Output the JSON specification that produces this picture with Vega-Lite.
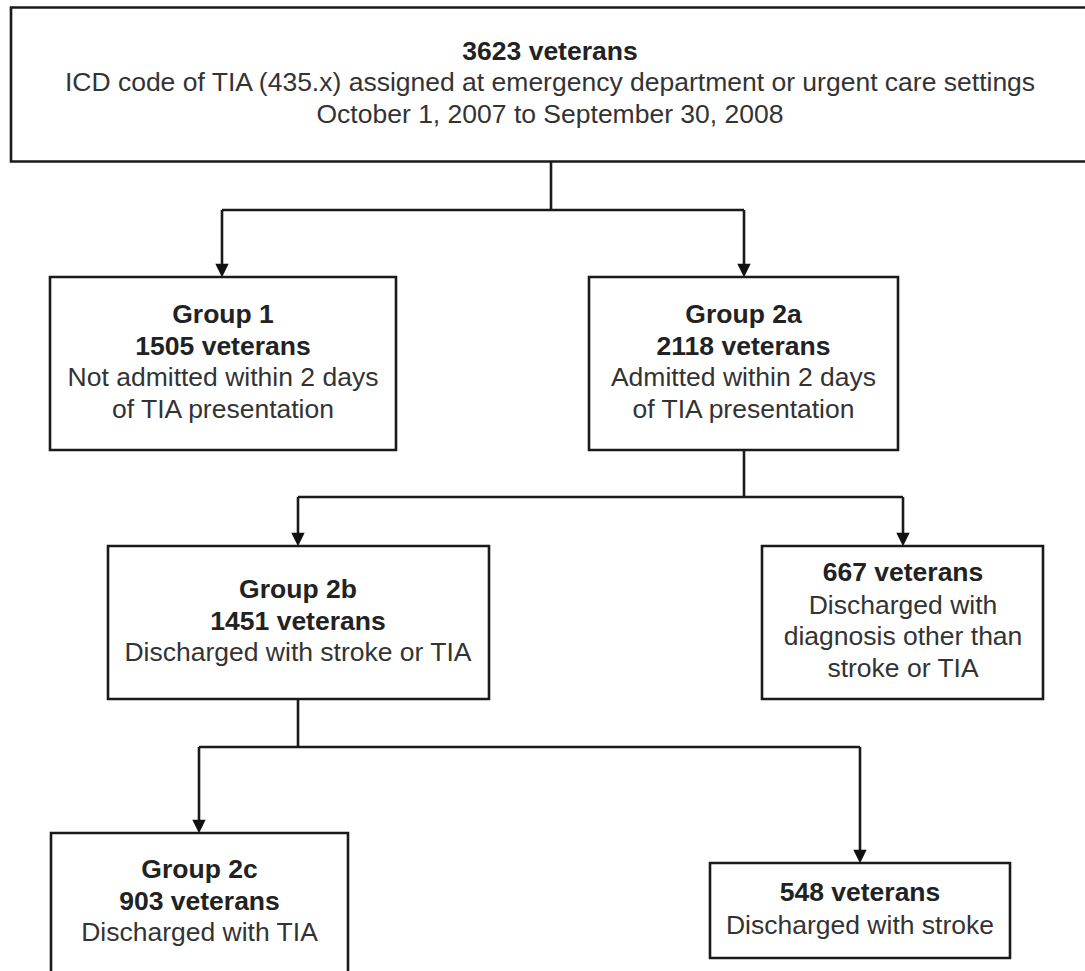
{
  "$schema": "https://vega.github.io/schema/vega-lite/v6.json",
  "width": 1085,
  "height": 971,
  "autosize": {"type": "fit", "contains": "padding"},
  "padding": 0,
  "background": "white",
  "config": {"view": {"stroke": null}},
  "datasets": {
    "boxes": [
      {"id": "top", "x": 11, "x2": 1100, "y": 7.5, "y2": 161.5},
      {"id": "g1", "x": 50, "x2": 396, "y": 277, "y2": 450},
      {"id": "g2a", "x": 589, "x2": 898, "y": 277, "y2": 450},
      {"id": "g2b", "x": 108, "x2": 489, "y": 546, "y2": 699},
      {"id": "o667", "x": 762, "x2": 1043, "y": 546, "y2": 699},
      {"id": "g2c", "x": 51, "x2": 348, "y": 833, "y2": 990},
      {"id": "s548", "x": 710, "x2": 1010, "y": 863, "y2": 958}
    ],
    "links": [
      {"x": 551, "x2": 551, "y": 161.5, "y2": 210},
      {"x": 222, "x2": 744, "y": 210, "y2": 210},
      {"x": 222, "x2": 222, "y": 210, "y2": 268},
      {"x": 744, "x2": 744, "y": 210, "y2": 268},
      {"x": 744, "x2": 744, "y": 450, "y2": 497},
      {"x": 298, "x2": 903, "y": 497, "y2": 497},
      {"x": 298, "x2": 298, "y": 497, "y2": 538},
      {"x": 903, "x2": 903, "y": 497, "y2": 538},
      {"x": 298, "x2": 298, "y": 699, "y2": 747},
      {"x": 199, "x2": 860, "y": 747, "y2": 747},
      {"x": 199, "x2": 199, "y": 747, "y2": 825},
      {"x": 860, "x2": 860, "y": 747, "y2": 855}
    ],
    "arrows": [
      {"x": 222, "y": 270.5},
      {"x": 744, "y": 270.5},
      {"x": 298, "y": 539.5},
      {"x": 903, "y": 539.5},
      {"x": 199, "y": 826.5},
      {"x": 860, "y": 856.5}
    ],
    "labels": [
      {"x": 550, "y": 52, "text": "3623 veterans", "bold": true},
      {"x": 550, "y": 83, "text": "ICD code of TIA (435.x) assigned at emergency department or urgent care settings", "bold": false},
      {"x": 550, "y": 115, "text": "October 1, 2007 to September 30, 2008", "bold": false},
      {"x": 223, "y": 315, "text": "Group 1", "bold": true},
      {"x": 223, "y": 347, "text": "1505 veterans", "bold": true},
      {"x": 223, "y": 378, "text": "Not admitted within 2 days", "bold": false},
      {"x": 223, "y": 410, "text": "of TIA presentation", "bold": false},
      {"x": 743.5, "y": 315, "text": "Group 2a", "bold": true},
      {"x": 743.5, "y": 347, "text": "2118 veterans", "bold": true},
      {"x": 743.5, "y": 378, "text": "Admitted within 2 days", "bold": false},
      {"x": 743.5, "y": 410, "text": "of TIA presentation", "bold": false},
      {"x": 298, "y": 590, "text": "Group 2b", "bold": true},
      {"x": 298, "y": 622, "text": "1451 veterans", "bold": true},
      {"x": 298, "y": 653, "text": "Discharged with stroke or TIA", "bold": false},
      {"x": 903, "y": 573, "text": "667 veterans", "bold": true},
      {"x": 903, "y": 606, "text": "Discharged with", "bold": false},
      {"x": 903, "y": 637, "text": "diagnosis other than", "bold": false},
      {"x": 903, "y": 669, "text": "stroke or TIA", "bold": false},
      {"x": 199.5, "y": 870, "text": "Group 2c", "bold": true},
      {"x": 199.5, "y": 902, "text": "903 veterans", "bold": true},
      {"x": 199.5, "y": 933, "text": "Discharged with TIA", "bold": false},
      {"x": 860, "y": 893, "text": "548 veterans", "bold": true},
      {"x": 860, "y": 926, "text": "Discharged with stroke", "bold": false}
    ]
  },
  "layer": [
    {
      "data": {"name": "boxes"},
      "mark": {"type": "rect", "fill": "white", "stroke": "#1a1a1a", "strokeWidth": 2.6, "clip": true},
      "encoding": {
        "x": {"field": "x", "type": "quantitative", "scale": {"domain": [0, 1085], "nice": false, "zero": false}, "axis": null},
        "x2": {"field": "x2"},
        "y": {"field": "y", "type": "quantitative", "scale": {"domain": [0, 971], "nice": false, "zero": false, "reverse": true}, "axis": null},
        "y2": {"field": "y2"}
      }
    },
    {
      "data": {"name": "links"},
      "mark": {"type": "rule", "stroke": "#1a1a1a", "strokeWidth": 2.6},
      "encoding": {
        "x": {"field": "x", "type": "quantitative"},
        "x2": {"field": "x2"},
        "y": {"field": "y", "type": "quantitative"},
        "y2": {"field": "y2"}
      }
    },
    {
      "data": {"name": "arrows"},
      "mark": {"type": "point", "shape": "M-1,-1L1,-1L0,1Z", "filled": true, "fill": "#111111", "stroke": null, "size": 180, "opacity": 1},
      "encoding": {
        "x": {"field": "x", "type": "quantitative"},
        "y": {"field": "y", "type": "quantitative"}
      }
    },
    {
      "data": {"name": "labels"},
      "transform": [{"filter": "datum.bold"}],
      "mark": {"type": "text", "font": "Liberation Sans", "fontSize": 26.5, "fontWeight": "bold", "fill": "#222222", "align": "center", "baseline": "middle"},
      "encoding": {
        "x": {"field": "x", "type": "quantitative"},
        "y": {"field": "y", "type": "quantitative"},
        "text": {"field": "text"}
      }
    },
    {
      "data": {"name": "labels"},
      "transform": [{"filter": "!datum.bold"}],
      "mark": {"type": "text", "font": "Liberation Sans", "fontSize": 26.5, "fontWeight": "normal", "fill": "#333333", "align": "center", "baseline": "middle"},
      "encoding": {
        "x": {"field": "x", "type": "quantitative"},
        "y": {"field": "y", "type": "quantitative"},
        "text": {"field": "text"}
      }
    }
  ]
}
